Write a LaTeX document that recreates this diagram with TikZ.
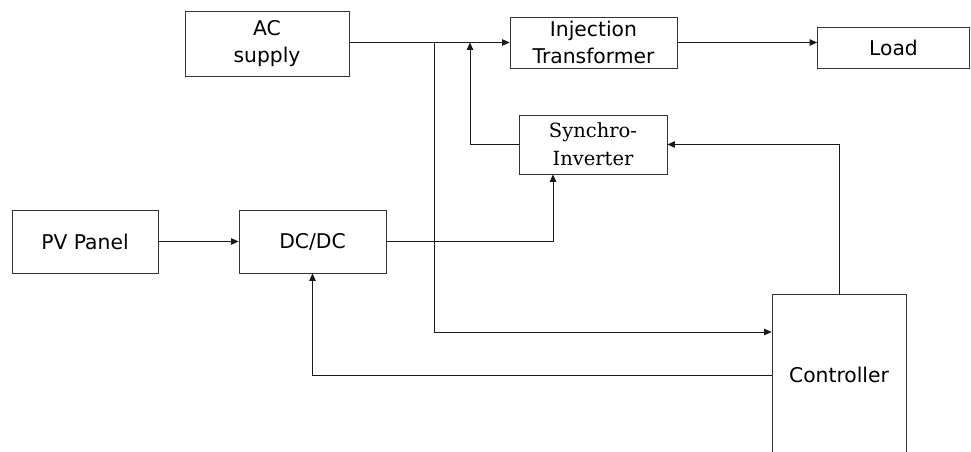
\documentclass[tikz,border=0pt]{standalone}
\usepackage{fontspec}
\setmainfont{DejaVu Sans}
\newfontfamily\serifblock{DejaVu Serif}
\usetikzlibrary{arrows.meta}

\begin{document}
\begin{tikzpicture}[x=1pt,y=-1pt,
  block/.style={draw=black!80, line width=0.8pt, inner sep=0pt, align=center,
    font=\fontsize{20.3}{27}\selectfont},
  wire/.style={line width=0.8pt, draw=black!90},
  feed/.style={wire, -{Triangle[length=7.5pt,width=6.5pt]}}]
  \clip (0,0) rectangle (971,452);
  \fill[white] (0,0) rectangle (971,452);

  % blocks
  \node[block, minimum width=164pt, minimum height=64.5pt] (ac) at (267,43.75) {AC\\supply};
  \node[block, minimum width=167pt, minimum height=51pt] (inj) at (593.5,42.5) {Injection\\Transformer};
  \node[block, minimum width=152pt, minimum height=41pt] (load) at (893.5,47.5) {Load};
  \node[block, minimum width=148pt, minimum height=59pt,
        font=\serifblock\fontsize{19.5}{28}\selectfont] (inv) at (593,144.5) {Synchro-\\Inverter};
  \node[block, minimum width=146pt, minimum height=63pt] (pv) at (85,241.5) {PV Panel};
  \node[block, minimum width=147pt, minimum height=63pt] (dc) at (312.5,241.5) {DC/DC};
  \node[block, minimum width=134pt, minimum height=162pt] (ctrl) at (839,375) {Controller};

  % tap points on the AC line
  \coordinate (tap) at (434,42.5);
  \coordinate (ret) at (470,42.5);

  % power path
  \draw[feed] (ac.east |- inj.west) -- (inj.west);
  \draw[feed] (inj.east) -- (inj.east -| load.west);
  \draw[feed] (inv.west) -| (ret);
  \draw[feed] (pv.east) -- (dc.west);
  \draw[feed] (dc.east) -| ([xshift=-40pt]inv.south);

  % measurement and control
  \draw[feed] (tap) |- ([yshift=43pt]ctrl.west);
  \draw[feed] (ctrl.north) |- (inv.east);
  \draw[feed] (ctrl.west) -| (dc.south);
\end{tikzpicture}
\end{document}
